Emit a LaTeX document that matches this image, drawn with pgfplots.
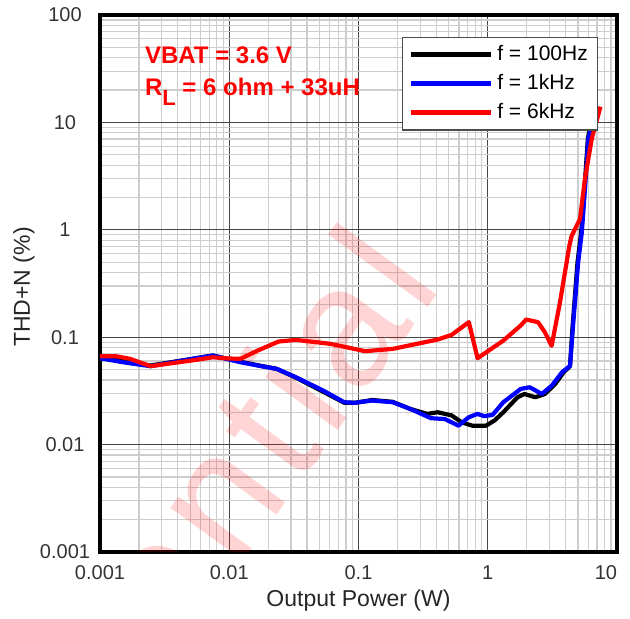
\documentclass[border=0pt]{standalone}
\usepackage{pgfplots}
\pgfplotsset{compat=1.18}
\usepackage{fontspec}
\setmainfont{Liberation Sans}
\newfontfamily\wmfont[LetterSpace=6]{Liberation Sans}
\usetikzlibrary{calc}
\definecolor{gridmaj}{RGB}{70,70,70}
\definecolor{gridmin}{RGB}{205,205,205}
\begin{document}
\begin{tikzpicture}
\begin{axis}[
  name=ax,
  scale only axis,
  width=258.5pt, height=268.5pt,
  xmode=log, ymode=log,
  xmin=0.001, xmax=10, ymin=0.001, ymax=100,
  xtick={0.001,0.01,0.1,1,10},
  xticklabels={0.001,0.01,0.1,1,\makebox[0pt][r]{10}},
  ytick={0.001,0.01,0.1,1,10,100},
  yticklabels={0.001,0.01,0.1,1,10,100},
  grid=both,
  major grid style={gridmaj, line width=0.5pt},
  minor grid style={gridmin, line width=0.6pt},
  major tick length=0pt, minor tick length=0pt,
  axis line style={line width=2pt, black},
  tick label style={font=\fontsize{10}{12}\selectfont, text=black!80},
  xticklabel style={anchor=center, yshift=-10.5pt},
  yticklabel style={anchor=center, xshift=-17.5pt},
  /pgf/number format/assume math mode=true,
  xlabel={Output Power (W)}, ylabel={THD+N (\%)},
  label style={font=\fontsize{11.5}{13}\selectfont, text=black!85},
  xlabel style={at={(axis description cs:0.5,-0.0912)}, anchor=center},
  ylabel style={at={(axis description cs:-0.147,0.4935)}, anchor=center, rotate=0},
  legend style={at={(0.964,0.9596)}, anchor=north east, draw=black!70, line width=0.6pt,
    font=\fontsize{10.5}{12}\selectfont, inner xsep=3pt, inner ysep=2pt, row sep=1.5pt,
    cells={anchor=west}},
  legend image code/.code={\draw[#1, line width=2.6pt] (0pt,0pt) -- (40pt,0pt);},
  every axis plot/.append style={line width=2.1pt, line join=round},
]
\node[rotate=54, anchor=base east, text=red, text opacity=0.17, inner sep=0pt,
      font=\wmfont\fontsize{85}{85}\selectfont] at (rel axis cs:0.665,0.497) {Confidential};

\addplot[black] coordinates {
(0.001,0.066) (0.0015,0.060) (0.00246,0.0545) (0.00515,0.0628) (0.00746,0.0675)
(0.0122,0.059) (0.0177,0.054) (0.0233,0.0507) (0.0328,0.042) (0.0534,0.031)
(0.0776,0.0245) (0.0935,0.0245) (0.1277,0.026) (0.184,0.025) (0.251,0.0215)
(0.34,0.0193) (0.41,0.0200) (0.525,0.0187) (0.63,0.0161) (0.76,0.0150)
(0.97,0.0150) (1.13,0.0168) (1.32,0.020) (1.70,0.0276) (1.92,0.0296)
(2.33,0.0276) (2.77,0.0296) (3.33,0.0367) (3.87,0.0472) (4.33,0.0537)
(4.52,0.12) (4.95,0.5) (5.28,0.94) (5.6,2.39) (5.95,7.0) (6.5,13.0)
};
\addlegendentry{f = 100Hz}
\addplot[blue] coordinates {
(0.001,0.0637) (0.0015,0.0585) (0.00246,0.0537) (0.00515,0.0628) (0.00746,0.0675)
(0.0122,0.0585) (0.0177,0.0537) (0.0233,0.0507) (0.0328,0.0424) (0.0534,0.0318)
(0.0776,0.0248) (0.0935,0.0245) (0.1277,0.0257) (0.184,0.0248) (0.251,0.0215)
(0.364,0.0176) (0.465,0.0173) (0.594,0.0150) (0.714,0.0180) (0.834,0.0193)
(0.94,0.0184) (1.09,0.0189) (1.32,0.0248) (1.80,0.033) (2.11,0.0342)
(2.62,0.0296) (3.14,0.0355) (3.76,0.0472) (4.33,0.054) (4.59,0.137)
(5.01,0.50) (5.34,0.94) (5.65,2.39) (6.0,7.0) (6.8,13.5)
};
\addlegendentry{f = 1kHz}
\addplot[red] coordinates {
(0.001,0.0665) (0.00133,0.0665) (0.0017,0.063) (0.00246,0.0537) (0.0035,0.057)
(0.00515,0.0607) (0.00746,0.065) (0.0095,0.0635) (0.0122,0.0628) (0.0166,0.0751)
(0.0241,0.0911) (0.0328,0.0944) (0.0607,0.0867) (0.1125,0.0741) (0.184,0.0778)
(0.283,0.0867) (0.410,0.0951) (0.525,0.105) (0.714,0.138) (0.834,0.0637)
(1.32,0.093) (1.80,0.1285) (1.98,0.146) (2.45,0.138) (2.77,0.111)
(3.12,0.083) (3.62,0.21) (4.28,0.71) (4.46,0.88) (5.17,1.26)
(5.65,2.97) (6.37,7.0) (7.45,14.0)
};
\addlegendentry{f = 6kHz}

\node[anchor=base west, text=red, font=\bfseries\fontsize{12}{14}\selectfont]
  at (rel axis cs:0.0735,0.9088) {VBAT = 3.6 V};
\node[anchor=base west, text=red, font=\bfseries\fontsize{12}{14}\selectfont]
  at (rel axis cs:0.0735,0.8507) {R\raisebox{-5pt}{\fontsize{11}{12}\selectfont L} = 6 ohm + 33uH};
\end{axis}
\pgfresetboundingbox
\path ($(ax.south west)+(-50pt,-33.5pt)$) rectangle ($(ax.north east)+(6.5pt,7.5pt)$);
\end{tikzpicture}
\end{document}
